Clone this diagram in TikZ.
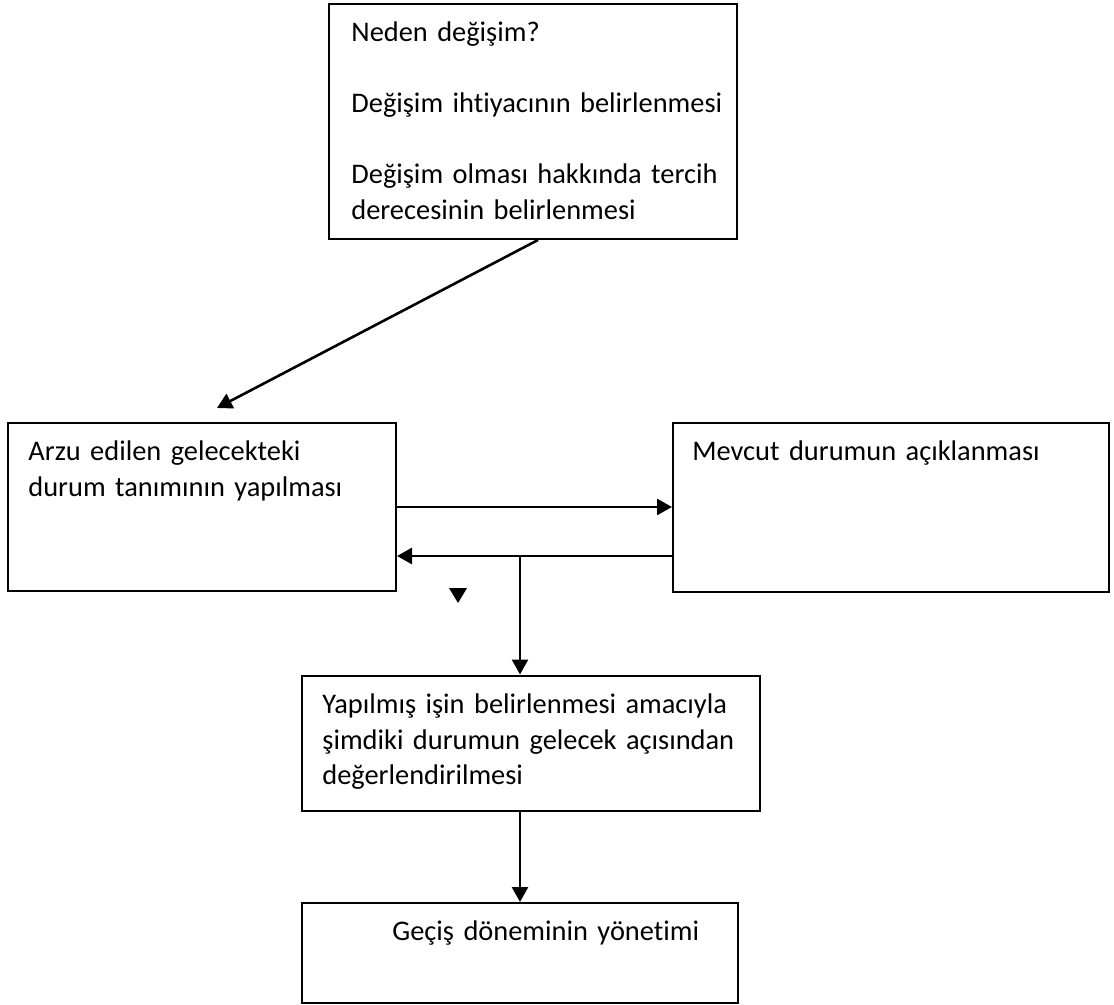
\documentclass[tikz,border=0pt]{standalone}
\usepackage{fontspec}
\setmainfont{Carlito}[Ligatures=NoCommon]
\usetikzlibrary{arrows.meta,calc,positioning}
\tikzset{
  box/.style={
    shape = rectangle,
    draw,
    line width = 1pt,
    inner sep = 0pt
  },
  txt/.style={
    anchor = base west,
    inner sep = 0pt,
    align = left,
    text width = 235pt,
    font = \fontsize{14.2}{17.75}\selectfont
  },
  conn/.style={
    line width = 1.3pt,
    -{Triangle[length=7.5pt,width=8pt]}
  }
}
\begin{document}
\begin{tikzpicture}[x=0.5pt,y=-0.5pt]
    \useasboundingbox (0,0) rectangle (1114,1005);
    % boxes
    \node[box, minimum width=204pt, minimum height=117.5pt] (why) at (533,121.5) {};
    \node[box, minimum width=194pt, minimum height=84pt] (future) at (202,507) {};
    \node[box, minimum width=218pt, minimum height=84.5pt] (current) at (891,507.5) {};
    \node[box, minimum width=229pt, minimum height=67.5pt] (eval) at (531,743) {};
    \node[box, minimum width=218pt, minimum height=50pt] (trans) at (520,953) {};
    % texts
    \node[txt] (whytxt) at ([shift={(23,39)}]why.north west)
      {Neden değişim?\\[17.75pt] Değişim ihtiyacının belirlenmesi\\[17.75pt] Değişim olması hakkında tercih\\ derecesinin belirlenmesi};
    \node[txt] (futuretxt) at ([shift={(21,39)}]future.north west)
      {Arzu edilen gelecekteki\\ durum tanımının yapılması};
    \node[txt] (currenttxt) at ([shift={(20,39)}]current.north west)
      {Mevcut durumun açıklanması};
    \node[txt] (evaltxt) at ([shift={(21,39)}]eval.north west)
      {Yapılmış işin belirlenmesi amacıyla\\ şimdiki durumun gelecek açısından\\ değerlendirilmesi};
    \node[txt] (transtxt) at ([shift={(91,38)}]trans.north west)
      {Geçiş döneminin yönetimi};
    % connectors
    \coordinate (diagend) at (217,408);
    \coordinate (back) at ([yshift=-24.25pt]current.west);
    \coordinate (branch) at (back -| trans.north);
    \draw[conn] ([xshift=-100pt]why.south east) -- (diagend);
    \draw[conn] (future.east) -- (future.east -| current.west);
    \draw[conn] (back) -- (back -| future.east);
    \draw[conn] (branch) -- (branch |- eval.north);
    \draw[conn] (eval.south -| trans.north) -- (trans.north);
    % stray arrow tip
    \fill (449,588) -- (467,588) -- (458,603) -- cycle;
\end{tikzpicture}
\end{document}
